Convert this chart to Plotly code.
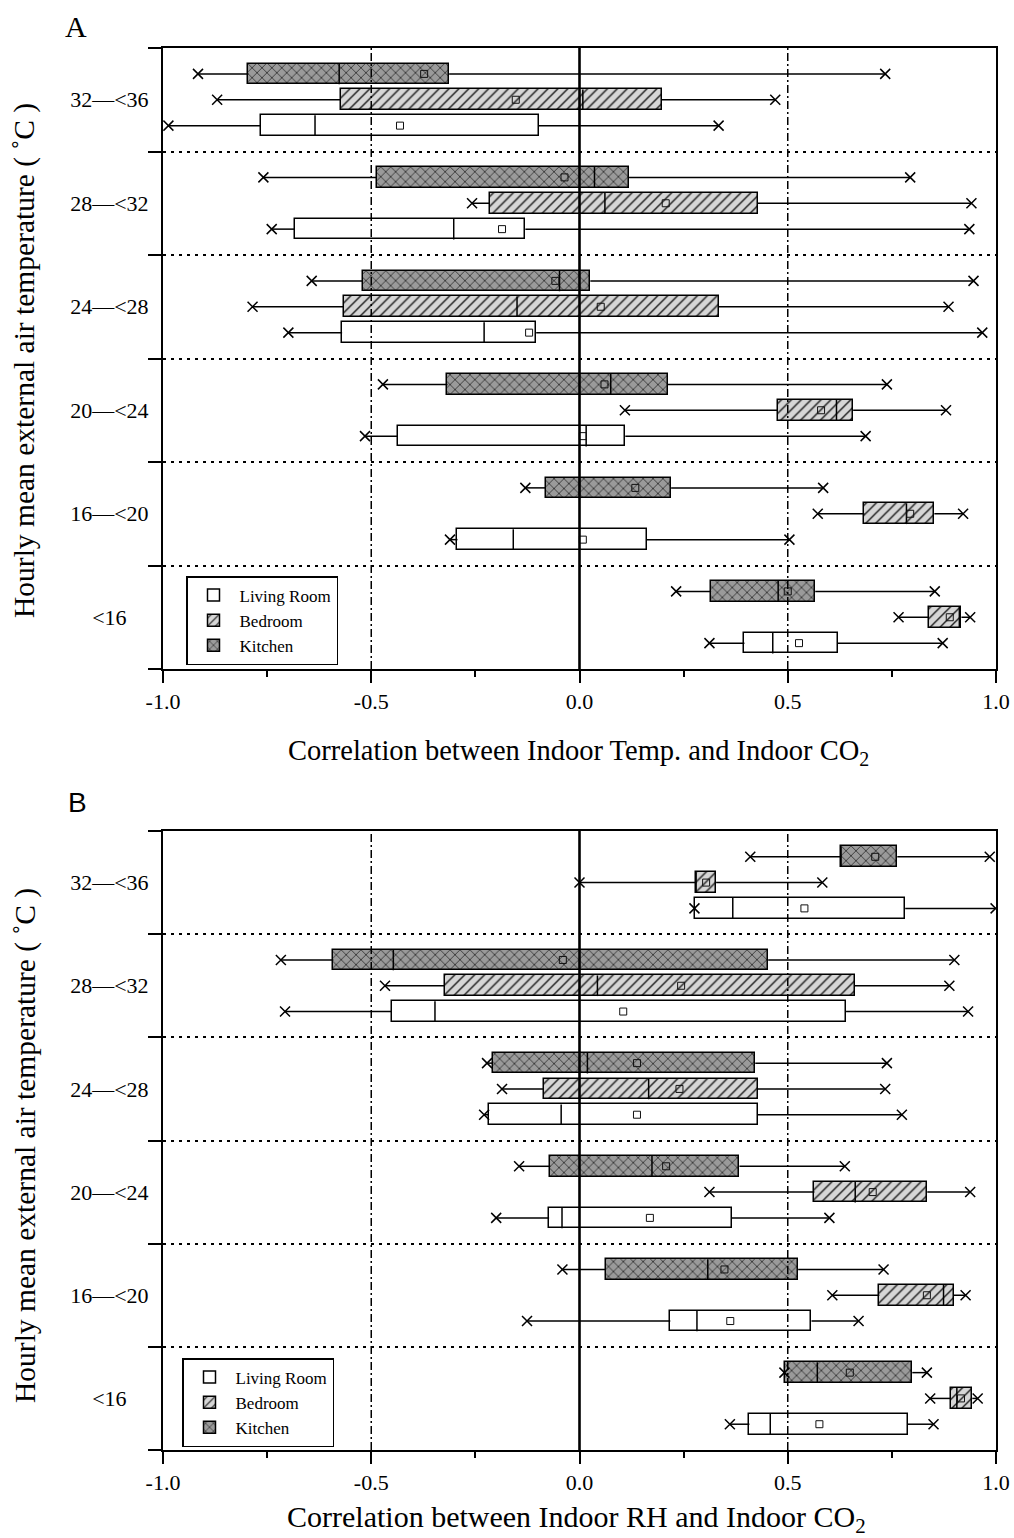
import plotly.graph_objects as go

# ---------------- data (bottom to top) ----------------
categories = ["<16", "16—<20", "20—<24", "24—<28", "28—<32", "32—<36"]
rooms = ["Living Room", "Bedroom", "Kitchen"]

# Panel A: Indoor Temp. vs Indoor CO2
A_living_low = [0.312, -0.311, -0.515, -0.699, -0.739, -0.987]
A_living_q1 = [0.396, -0.293, -0.436, -0.570, -0.684, -0.765]
A_living_med = [0.464, -0.159, 0.016, -0.229, -0.302, -0.635]
A_living_mean = [0.527, 0.008, 0.008, -0.121, -0.186, -0.431]
A_living_q3 = [0.620, 0.162, 0.110, -0.104, -0.130, -0.098]
A_living_high = [0.872, 0.504, 0.687, 0.967, 0.936, 0.334]

A_bed_low = [0.766, 0.572, 0.109, -0.785, -0.258, -0.870]
A_bed_q1 = [0.838, 0.684, 0.476, -0.566, -0.215, -0.573]
A_bed_med = [0.912, 0.785, 0.617, -0.150, 0.061, 0.008]
A_bed_mean = [0.889, 0.794, 0.580, 0.051, 0.207, -0.153]
A_bed_q3 = [0.917, 0.852, 0.657, 0.335, 0.428, 0.198]
A_bed_high = [0.938, 0.921, 0.880, 0.886, 0.941, 0.470]

A_kit_low = [0.232, -0.130, -0.472, -0.643, -0.759, -0.916]
A_kit_q1 = [0.316, -0.081, -0.317, -0.520, -0.487, -0.795]
A_kit_med = [0.477, 0.000, 0.075, -0.048, 0.036, -0.577]
A_kit_mean = [0.500, 0.134, 0.060, -0.058, -0.036, -0.373]
A_kit_q3 = [0.566, 0.220, 0.212, 0.026, 0.119, -0.313]
A_kit_high = [0.853, 0.585, 0.738, 0.946, 0.794, 0.734]

# Panel B: Indoor RH vs Indoor CO2
B_living_low = [0.361, -0.126, -0.200, -0.229, -0.707, 0.276]
B_living_q1 = [0.408, 0.218, -0.073, -0.218, -0.451, 0.278]
B_living_med = [0.458, 0.282, -0.042, -0.044, -0.347, 0.368]
B_living_mean = [0.576, 0.362, 0.169, 0.138, 0.105, 0.540]
B_living_q3 = [0.788, 0.557, 0.365, 0.428, 0.640, 0.782]
B_living_high = [0.850, 0.670, 0.600, 0.774, 0.933, 0.999]

B_bed_low = [0.842, 0.607, 0.312, -0.186, -0.467, 0.000]
B_bed_q1 = [0.891, 0.720, 0.564, -0.086, -0.324, 0.280]
B_bed_med = [0.906, 0.874, 0.662, 0.166, 0.043, 0.280]
B_bed_mean = [0.916, 0.834, 0.704, 0.240, 0.244, 0.304]
B_bed_q3 = [0.943, 0.899, 0.835, 0.428, 0.661, 0.328]
B_bed_high = [0.956, 0.927, 0.938, 0.734, 0.888, 0.583]

B_kit_low = [0.492, -0.041, -0.145, -0.222, -0.717, 0.410]
B_kit_q1 = [0.494, 0.063, -0.070, -0.208, -0.591, 0.628]
B_kit_med = [0.571, 0.308, 0.174, 0.019, -0.447, 0.628]
B_kit_mean = [0.649, 0.348, 0.208, 0.138, -0.040, 0.710]
B_kit_q3 = [0.799, 0.525, 0.384, 0.422, 0.453, 0.763]
B_kit_high = [0.834, 0.730, 0.637, 0.738, 0.900, 0.985]

x_tickvals = [-1.0, -0.5, 0.0, 0.5, 1.0]
x_ticktext = ["-1.0", "-0.5", "0.0", "0.5", "1.0"]
x_minor = [-0.75, -0.25, 0.25, 0.75]

panels = {
    "A": {
        "Living Room": (A_living_low, A_living_q1, A_living_med, A_living_mean, A_living_q3, A_living_high),
        "Bedroom": (A_bed_low, A_bed_q1, A_bed_med, A_bed_mean, A_bed_q3, A_bed_high),
        "Kitchen": (A_kit_low, A_kit_q1, A_kit_med, A_kit_mean, A_kit_q3, A_kit_high),
    },
    "B": {
        "Living Room": (B_living_low, B_living_q1, B_living_med, B_living_mean, B_living_q3, B_living_high),
        "Bedroom": (B_bed_low, B_bed_q1, B_bed_med, B_bed_mean, B_bed_q3, B_bed_high),
        "Kitchen": (B_kit_low, B_kit_q1, B_kit_med, B_kit_mean, B_kit_q3, B_kit_high),
    },
}

# ---------------- styling ----------------
SERIF = "Liberation Serif"
offsets = {"Living Room": -0.25, "Bedroom": 0.0, "Kitchen": 0.25}
styles = {
    "Living Room": dict(color="white", pattern=dict(shape="")),
    "Bedroom": dict(color="#d4d4d4", pattern=dict(shape="/", fillmode="replace", bgcolor="#d6d6d6",
                                                   fgcolor="#1a1a1a", size=7, solidity=0.2)),
    "Kitchen": dict(color="#9a9a9a", pattern=dict(shape="x", fillmode="replace", bgcolor="#9a9a9a",
                                                  fgcolor="#111111", size=7, solidity=0.18)),
}
BOX_H = 0.2
MED_H = 0.1

fig = go.Figure()

axis_ids = {"A": ("x", "y", "legend"), "B": ("x2", "y2", "legend2")}

for pname, pdata in panels.items():
    xa, ya, lg = axis_ids[pname]
    for room in rooms:
        low, q1, med, mean, q3, high = pdata[room]
        yc = [k + 0.5 + offsets[room] for k in range(len(categories))]
        st = styles[room]
        # box (q1 -> q3)
        fig.add_trace(go.Bar(
            orientation="h", y=yc, x=[b - a for a, b in zip(q1, q3)], base=q1, width=BOX_H,
            name=room, legend=lg, showlegend=True, xaxis=xa, yaxis=ya,
            marker=dict(color=st["color"], line=dict(color="black", width=1.5), pattern=st["pattern"]),
            hoverinfo="skip",
        ))
        # whiskers
        wx, wy = [], []
        for i in range(len(categories)):
            wx += [low[i], q1[i], None, q3[i], high[i], None]
            wy += [yc[i], yc[i], None, yc[i], yc[i], None]
        fig.add_trace(go.Scatter(x=wx, y=wy, mode="lines", line=dict(color="black", width=1.5),
                                 showlegend=False, xaxis=xa, yaxis=ya, hoverinfo="skip"))
        # medians
        mx, my = [], []
        for i in range(len(categories)):
            mx += [med[i], med[i], None]
            my += [yc[i] - MED_H, yc[i] + MED_H, None]
        fig.add_trace(go.Scatter(x=mx, y=my, mode="lines", line=dict(color="black", width=1.5),
                                 showlegend=False, xaxis=xa, yaxis=ya, hoverinfo="skip"))
        # whisker ends
        fig.add_trace(go.Scatter(x=low + high, y=yc + yc, mode="markers",
                                 marker=dict(symbol="x-thin", size=10, line=dict(color="black", width=1.5)),
                                 showlegend=False, xaxis=xa, yaxis=ya, hoverinfo="skip"))
        # means
        fig.add_trace(go.Scatter(x=mean, y=yc, mode="markers",
                                 marker=dict(symbol="square-open", size=7, color="#111111",
                                             line=dict(color="#111111", width=1)),
                                 showlegend=False, xaxis=xa, yaxis=ya, hoverinfo="skip"))

# reference lines
for xa, ya in (("x", "y"), ("x2", "y2")):
    fig.add_shape(type="line", xref=xa, yref=f"{ya} domain", x0=0, x1=0, y0=0, y1=1,
                  line=dict(color="black", width=2.6), layer="above")
    for xv in (-0.5, 0.5):
        fig.add_shape(type="line", xref=xa, yref=f"{ya} domain", x0=xv, x1=xv, y0=0, y1=1,
                      line=dict(color="black", width=1.5, dash="8px,3px,2px,3px"), layer="above")

W, H = 1014, 1538
xdom = [163 / W, 996 / W]
ydomA = [(H - 669) / H, (H - 48) / H]
ydomB = [(H - 1450) / H, (H - 831) / H]

ytick_text = [c if len(c) > 3 else c + "\u00a0" * 4 for c in categories]


def xaxis_cfg(anchor):
    return dict(domain=xdom, anchor=anchor, range=[-1, 1], tickmode="array", tickvals=x_tickvals,
                ticktext=x_ticktext, ticks="outside", ticklen=12, tickwidth=2, tickcolor="black",
                minor=dict(tickmode="array", tickvals=x_minor, ticks="outside", ticklen=6, tickwidth=2,
                           tickcolor="black", showgrid=False),
                showline=True, linewidth=2, linecolor="black", mirror=True, showgrid=False, zeroline=False,
                tickfont=dict(family=SERIF, size=22, color="black"), automargin=False, fixedrange=True)


def yaxis_cfg(anchor, dom):
    return dict(domain=dom, anchor=anchor, range=[0, 6], tickmode="array",
                tickvals=[k + 0.5 for k in range(len(categories))], ticktext=ytick_text,
                ticks="", ticklabelstandoff=8,
                minor=dict(tickmode="array", tickvals=list(range(len(categories) + 1)), ticks="outside",
                           ticklen=13, tickwidth=2, tickcolor="black", showgrid=True, gridcolor="black",
                           gridwidth=1.5, griddash="3px,5px"),
                showline=True, linewidth=2, linecolor="black", mirror=True, showgrid=False, zeroline=False,
                tickfont=dict(family=SERIF, size=22, color="black"), automargin=False, fixedrange=True)


legend_common = dict(xanchor="left", yanchor="top", bordercolor="black", borderwidth=1.5, bgcolor="white",
                     font=dict(family=SERIF, size=17, color="black"), traceorder="normal",
                     tracegroupgap=0, itemwidth=42)

fig.update_layout(
    width=W, height=H, paper_bgcolor="white", plot_bgcolor="white",
    margin=dict(l=0, r=0, t=0, b=0), barmode="overlay", bargap=0,
    font=dict(family=SERIF, color="black"),
    xaxis=xaxis_cfg("y"), yaxis=yaxis_cfg("x", ydomA),
    xaxis2=xaxis_cfg("y2"), yaxis2=yaxis_cfg("x2", ydomB),
    legend=dict(x=186 / W, y=(H - 576) / H, **legend_common),
    legend2=dict(x=182 / W, y=(H - 1358) / H, **legend_common),
    showlegend=True,
)

ytitle = "Hourly mean external air temperature ( ˚C )"
annotations = [
    dict(text="A", x=63 / W, y=(H - 26) / H, xref="paper", yref="paper", xanchor="left", yanchor="middle",
         showarrow=False, font=dict(family=SERIF, size=30, color="black")),
    dict(text="B", x=66 / W, y=(H - 802) / H, xref="paper", yref="paper", xanchor="left", yanchor="middle",
         showarrow=False, font=dict(family="Liberation Sans", size=28, color="black")),
    dict(text=ytitle, x=25 / W, y=(H - 361) / H, xref="paper", yref="paper", xanchor="center",
         yanchor="middle", textangle=-90, showarrow=False, font=dict(family=SERIF, size=29.5, color="black")),
    dict(text=ytitle, x=25 / W, y=(H - 1146) / H, xref="paper", yref="paper", xanchor="center",
         yanchor="middle", textangle=-90, showarrow=False, font=dict(family=SERIF, size=29.5, color="black")),
    dict(text="Correlation between Indoor Temp. and Indoor CO<sub>2</sub>", x=578 / W,
         y=(H - 752) / H, xref="paper", yref="paper", xanchor="center", yanchor="middle", showarrow=False,
         font=dict(family=SERIF, size=28.5, color="black")),
    dict(text="Correlation between Indoor RH and Indoor CO<sub>2</sub>", x=576 / W,
         y=(H - 1519) / H, xref="paper", yref="paper", xanchor="center", yanchor="middle", showarrow=False,
         font=dict(family=SERIF, size=30, color="black")),
]
fig.update_layout(annotations=annotations)

fig.write_html("out.html", config={"displayModeBar": False},
               post_script="document.body.style.margin='0px';document.body.style.overflow='hidden';")
